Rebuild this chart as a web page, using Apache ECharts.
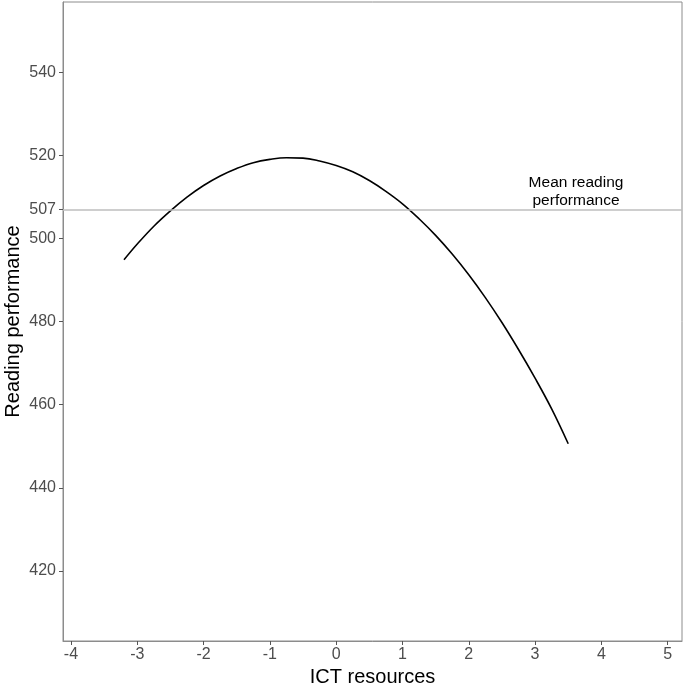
<!DOCTYPE html>
<html>
<head>
<meta charset="utf-8">
<script src="https://cdn.jsdelivr.net/npm/echarts@6/dist/echarts.min.js"></script>
<style>
  html, body { margin: 0; padding: 0; background: #fff; }
  #chart { width: 685px; height: 685px; }
</style>
</head>
<body>
<div id="chart"></div>
<script>
// fitted curve
const ictValues = [-3.2, -3.0, -2.75, -2.5, -2.25, -2.0, -1.75, -1.5, -1.25, -1.0, -0.75, -0.5, -0.25, 0,
  0.25, 0.5, 0.75, 1.0, 1.25, 1.5, 1.75, 2.0, 2.25, 2.5, 2.75, 3.0, 3.25, 3.5];
const readingValues = [494.9, 498.7, 503.0, 506.7, 510.0, 512.8, 515.1, 516.9, 518.3, 519.1, 519.5, 519.4, 518.7, 517.6,
  516.1, 514.0, 511.4, 508.4, 504.8, 500.8, 496.3, 491.3, 485.8, 479.8, 473.3, 466.4, 459.0, 450.6];

const meanReading = 507;
const xTicks = [-4, -3, -2, -1, 0, 1, 2, 3, 4, 5];
const yTicks = [420, 440, 460, 480, 500, 507, 520, 540];

const chart = echarts.init(document.getElementById('chart'));
const font = '"Liberation Sans", Arial, sans-serif';

chart.setOption({
  animation: false,
  grid: {
    left: 63, top: 2, width: 619, height: 639,
    outerBoundsMode: 'none',
    containLabel: false,
    show: true, borderColor: '#8c8c8c', borderWidth: 1
  },
  xAxis: {
    type: 'value',
    min: -4.12,
    max: 5.216,
    name: 'ICT resources',
    nameLocation: 'middle',
    nameGap: 26,
    nameMoveOverlap: false,
    nameTextStyle: { color: '#000', fontSize: 20, fontFamily: font, verticalAlign: 'top' },
    axisLine: { onZero: false, lineStyle: { color: '#8c8c8c', width: 1 } },
    axisTick: { customValues: xTicks, length: 4, lineStyle: { color: '#555' } },
    axisLabel: { customValues: xTicks, color: '#4d4d4d', fontSize: 16, fontFamily: font, margin: 6 },
    splitLine: { show: false }
  },
  yAxis: {
    type: 'value',
    min: 403.1,
    max: 557.0,
    name: 'Reading performance',
    nameLocation: 'middle',
    nameGap: 40,
    nameMoveOverlap: false,
    nameTextStyle: { color: '#000', fontSize: 20, fontFamily: font },
    axisLine: { show: true, onZero: false, lineStyle: { color: '#8c8c8c', width: 1 } },
    axisTick: { show: true, customValues: yTicks, length: 4, lineStyle: { color: '#555' } },
    axisLabel: { customValues: yTicks, color: '#4d4d4d', fontSize: 16, fontFamily: font, margin: 7 },
    splitLine: { show: false }
  },
  graphic: [{
    type: 'text',
    x: 576,
    y: 192,
    style: {
      text: 'Mean reading\nperformance',
      align: 'center',
      verticalAlign: 'middle',
      fill: '#000',
      font: '15.5px "Liberation Sans", Arial, sans-serif',
      lineHeight: 18
    }
  }],
  series: [{
    type: 'line',
    data: ictValues.map((x, i) => [x, readingValues[i]]),
    smooth: 0.4,
    showSymbol: false,
    lineStyle: { color: '#000', width: 1.6 },
    markLine: {
      silent: true,
      symbol: 'none',
      label: { show: false },
      lineStyle: { color: '#bebebe', width: 1.5, type: 'solid' },
      data: [{ yAxis: meanReading }]
    }
  }]
});
</script>
</body>
</html>
